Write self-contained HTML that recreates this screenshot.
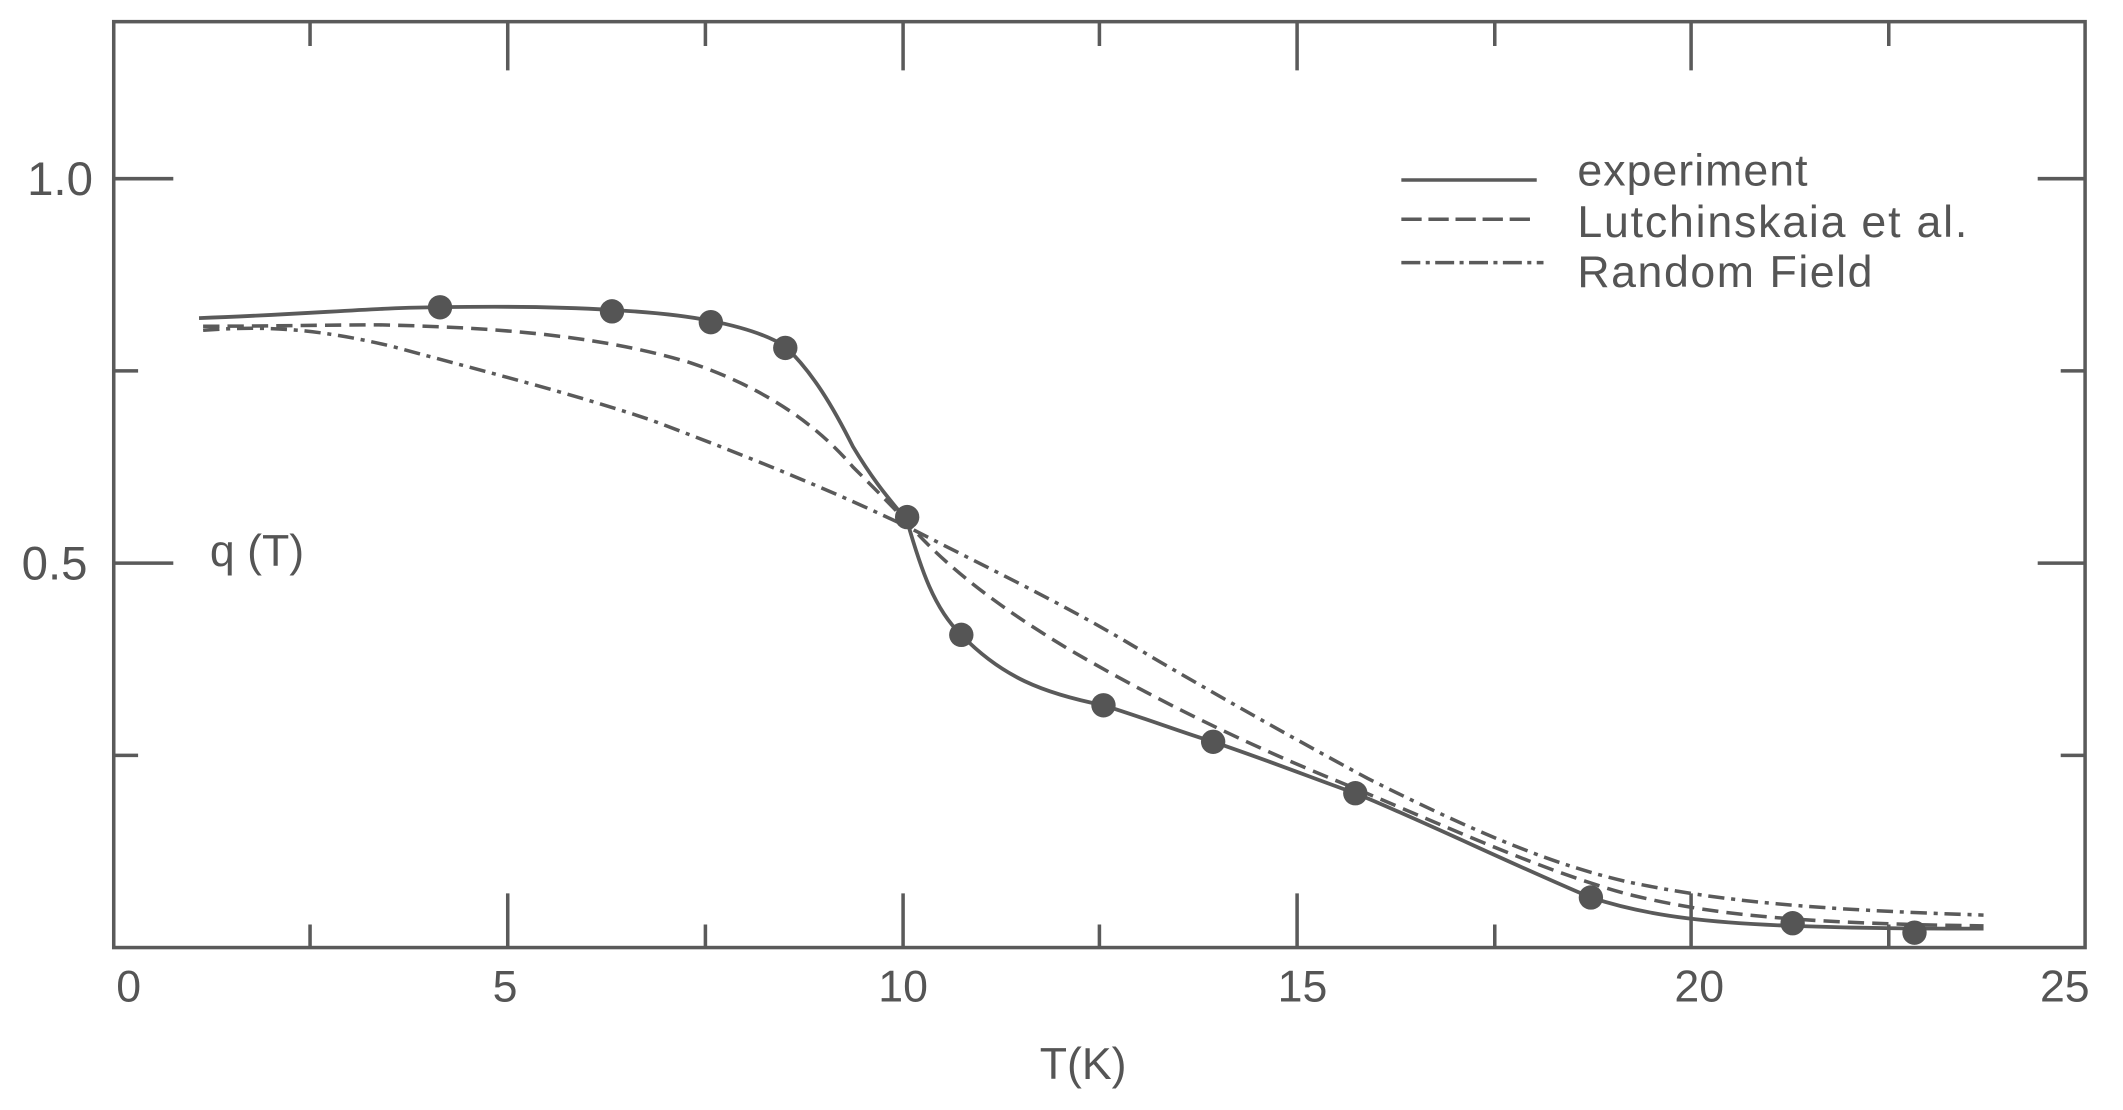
<!DOCTYPE html>
<html><head><meta charset="utf-8"><style>
html,body{margin:0;padding:0;background:#fff;}
svg{display:block;}
text{font-family:"Liberation Sans",sans-serif;fill:#555;}
</style></head><body>
<svg width="2123" height="1110" viewBox="0 0 1568 820" preserveAspectRatio="none">
<g stroke="#5a5a5a" stroke-width="2.6" fill="none" stroke-linecap="butt">
<rect x="84" y="16" width="1456" height="684"/>
<path d="M229 700V683 M375 700V660 M521 700V683 M667 700V660 M812 700V683 M958 700V660 M1104 700V683 M1249 700V660 M1395 700V683"/>
<path d="M229 16V34 M375 16V52 M521 16V34 M667 16V52 M812 16V34 M958 16V52 M1104 16V34 M1249 16V52 M1395 16V34"/>
<path d="M84 132H128 M84 274H102 M84 416H128 M84 558H102"/>
<path d="M1540 132H1505 M1540 274H1522 M1540 416H1505 M1540 558H1522"/>
<path d="M1035 133H1135"/>
<path d="M1035 162H1135" stroke-dasharray="15,5"/>
<path d="M1035 194H1140" stroke-dasharray="14,4,3,4"/>
<path stroke-width="2.8" d="M147 235 C230 232 280 227 325 227 C380 226 420 227 452 229 C490 231 510 234 525 237 C550 242 568 248 580 256 C600 275 615 300 630 330 C648 360 660 372 670 385 C680 420 690 450 710 469 C740 500 770 512 815 521 C850 532 870 540 896 548 C940 563 970 575 1001 586 C1050 606 1120 640 1175 663 C1220 678 1270 682 1324 684 C1380 686 1420 686 1465 686"/>
<path stroke-dasharray="12,6" d="M150 241 C200 241 240 240 280 240 C380 242 450 250 510 268 C560 285 600 310 630 345 C650 365 660 375 672 388 C700 420 740 450 790 480 C850 515 920 550 1000 582 C1080 616 1140 643 1200 660 C1260 675 1320 682 1465 684"/>
<path stroke-dasharray="12,5,3,5" d="M150 244 C200 240 240 244 290 256 C360 275 420 290 480 310 C560 340 620 365 672 390 C730 420 790 448 850 485 C910 520 960 548 1010 575 C1080 610 1140 637 1200 651 C1270 666 1340 672 1465 676"/>
</g>
<g fill="#555">
<circle cx="325" cy="227" r="9"/><circle cx="452" cy="230" r="9"/><circle cx="525" cy="238" r="9"/>
<circle cx="580" cy="257" r="9"/><circle cx="670" cy="382" r="9"/><circle cx="710" cy="469" r="9"/>
<circle cx="815" cy="521" r="9"/><circle cx="896" cy="548" r="9"/><circle cx="1001" cy="586" r="9"/>
<circle cx="1175" cy="663" r="9"/><circle cx="1324" cy="682" r="9"/><circle cx="1414" cy="689" r="9"/>
</g>
<g font-size="33" text-anchor="middle">
<text x="95" y="740">0</text><text x="373" y="740">5</text><text x="667" y="740">10</text>
<text x="962" y="740">15</text><text x="1255" y="740">20</text><text x="1525" y="740">25</text>
<text x="800" y="797">T(K)</text>
</g>
<g font-size="33">
<text x="20" y="144" font-size="35">1.0</text><text x="16" y="428" font-size="35">0.5</text>
<text x="155" y="418">q (T)</text>
<text x="1165" y="137" textLength="170">experiment</text>
<text x="1165" y="175" textLength="288">Lutchinskaia  et al.</text>
<text x="1165" y="212" textLength="218">Random Field</text>
</g>
</svg>
</body></html>
